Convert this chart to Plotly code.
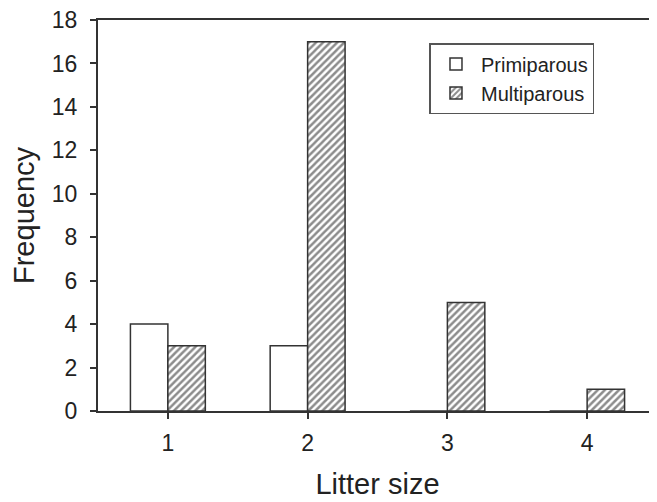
import plotly.graph_objects as go

litter_size = [1, 2, 3, 4]
primiparous = [4, 3, 0, 0]
multiparous = [3, 17, 5, 1]
y_ticks = [0, 2, 4, 6, 8, 10, 12, 14, 16, 18]

line_col = "#333333"
font_family = "Liberation Sans, Arial, sans-serif"

fig = go.Figure()
fig.add_trace(go.Bar(
    x=litter_size, y=primiparous, name="Primiparous",
    marker=dict(color="white", line=dict(color=line_col, width=1.5)),
))
fig.add_trace(go.Bar(
    x=litter_size, y=multiparous, name="Multiparous",
    marker=dict(color="white", line=dict(color=line_col, width=1.5),
                pattern=dict(shape="/", size=5, solidity=0.5,
                             fgcolor="#1a1a1a", bgcolor="white")),
))

# page body has an 8px default margin, so the figure is sized to fit the window
fig.update_layout(
    width=649, height=494,
    margin=dict(l=90, r=0, t=12, b=91),
    paper_bgcolor="white", plot_bgcolor="white",
    barmode="group", bargap=0.464, bargroupgap=0,
    font=dict(family=font_family, color="#222222"),
    showlegend=True,
    legend=dict(
        x=0.593, y=0.941, xanchor="left", yanchor="top",
        bgcolor="white", bordercolor="#555555", borderwidth=1.5,
        font=dict(size=20), tracegroupgap=0, itemwidth=40,
    ),
    xaxis=dict(
        range=[0.5, 4.5], tickmode="array", tickvals=litter_size,
        ticktext=[str(v) for v in litter_size],
        showgrid=False, zeroline=False,
        showline=True, linecolor=line_col, linewidth=2, mirror=True,
        ticks="outside", ticklen=6, tickwidth=1.5, tickcolor=line_col,
        tickfont=dict(size=23), automargin=False, ticklabelstandoff=4,
        title=dict(text="Litter size", font=dict(size=29), standoff=19),
    ),
    yaxis=dict(
        range=[0, 18], tickmode="array", tickvals=y_ticks,
        showgrid=False, zeroline=False,
        showline=True, linecolor=line_col, linewidth=2,
        ticks="outside", ticklen=6, tickwidth=1.5, tickcolor=line_col,
        tickfont=dict(size=23), automargin=False, ticklabelstandoff=8,
        ticklabeloverflow="allow",
        title=dict(text="Frequency", font=dict(size=29), standoff=12),
    ),
)

fig.write_html("out.html")
